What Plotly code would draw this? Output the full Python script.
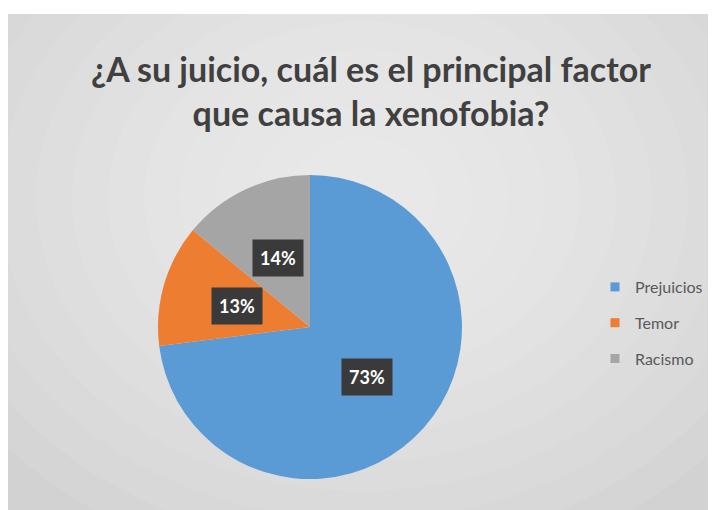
import math
import plotly.graph_objects as go

CATEGORIES = ["Prejuicios", "Temor", "Racismo"]
VALUES = [73, 13, 14]
COLORS = ["#5b9bd5", "#ed7d31", "#a5a5a5"]
TITLE = "¿A su juicio, cuál es el principal factor<br>que causa la xenofobia?"

W, H = 716, 510
# pie placement in figure pixels (page body adds an 8px offset)
CX, CY, R = 302, 319, 152
LABEL_R = 0.5
FONT = "Lato, Open Sans, sans-serif"

fig = go.Figure()

fig.add_trace(
    go.Pie(
        labels=CATEGORIES,
        values=VALUES,
        marker=dict(colors=COLORS, line=dict(width=0)),
        sort=False,
        direction="clockwise",
        rotation=0,
        textinfo="none",
        showlegend=False,
        hoverinfo="label+percent",
        domain=dict(
            x=[(CX - R) / W, (CX + R) / W],
            y=[(H - CY - R) / H, (H - CY + R) / H],
        ),
    )
)

# legend entries (pie legend can't be spaced out, so use marker-only traces)
for name, col in zip(CATEGORIES, COLORS):
    fig.add_trace(
        go.Scatter(
            x=[None], y=[None],
            mode="markers",
            name=name,
            legendgroup=name,
            marker=dict(symbol="square", size=9, color=col),
        )
    )

# dark boxed percentage labels, positioned from the slice mid-angles
total = sum(VALUES)
cum = 0
for v in VALUES:
    mid = (cum + v / 2) / total * 2 * math.pi
    cum += v
    px = CX + LABEL_R * R * math.sin(mid)
    py = CY - LABEL_R * R * math.cos(mid)
    fig.add_annotation(
        x=px / W, y=1 - py / H,
        xref="paper", yref="paper",
        xanchor="center", yanchor="middle",
        text=f"<b>{round(v / total * 100)}%</b>",
        showarrow=False,
        font=dict(family=FONT, size=18, color="white"),
        bgcolor="#3a3a3a",
        borderpad=7,
    )

# background: gray panel with soft radial lightening
shapes = [
    dict(type="rect", xref="paper", yref="paper", layer="below",
         x0=0, x1=1, y0=0, y1=1 - 6 / H,
         fillcolor="#d2d2d2", line=dict(width=0)),
]
gx, gy = 354, 190
for k in range(12):
    rx = 470 - k * 36
    ry = 380 - k * 29
    shapes.append(dict(
        type="circle", xref="paper", yref="paper", layer="below",
        x0=(gx - rx) / W, x1=(gx + rx) / W,
        y0=1 - (gy + ry) / H, y1=1 - (gy - ry) / H,
        fillcolor="white", opacity=0.07, line=dict(width=0),
    ))
# keep the strip above the panel white
shapes.append(dict(type="rect", xref="paper", yref="paper", layer="below",
                   x0=0, x1=1, y0=1 - 6 / H, y1=1.2,
                   fillcolor="white", line=dict(width=0)))

fig.update_layout(
    shapes=shapes,
    title=dict(
        text=TITLE,
        font=dict(family=FONT, size=34, color="#404040", weight="bold"),
        x=0.507, xanchor="center",
        y=1 - 74 / H, yanchor="top",
    ),
    legend=dict(
        x=587 / W, xanchor="left",
        y=1 - 262 / H, yanchor="top",
        font=dict(family=FONT, size=16, color="#595959"),
        tracegroupgap=12,
        bgcolor="rgba(0,0,0,0)",
    ),
    xaxis=dict(visible=False),
    yaxis=dict(visible=False),
    plot_bgcolor="rgba(0,0,0,0)",
    paper_bgcolor="white",
    width=W,
    height=H,
    margin=dict(l=0, r=0, t=0, b=0),
)

fig.write_html("out.html")
